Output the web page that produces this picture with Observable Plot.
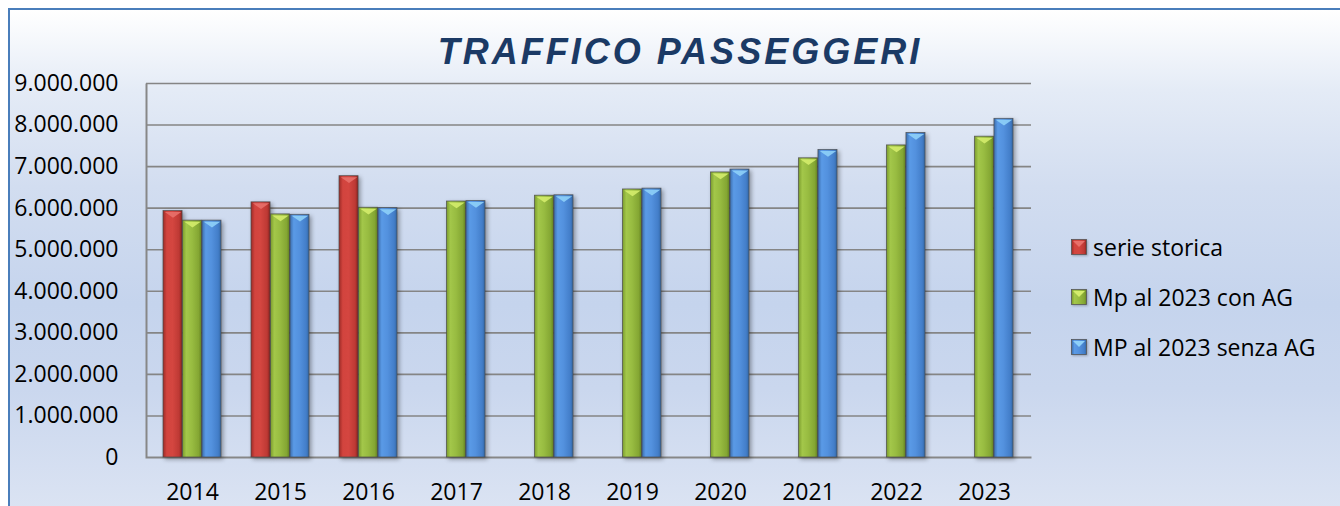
<!DOCTYPE html>
<html>
<head>
<meta charset="utf-8">
<script src="https://cdn.jsdelivr.net/npm/d3@7"></script>
<script src="https://cdn.jsdelivr.net/npm/@observablehq/plot@0.6"></script>
<style>
  html, body { margin: 0; padding: 0; width: 1340px; height: 506px; overflow: hidden; background: #ffffff; }
  #frame {
    position: absolute; left: 8px; top: 8px; width: 1340px; height: 506px;
    border-left: 2px solid #4a7ebb; border-top: 2px solid #4a7ebb;
    background: linear-gradient(to bottom, #ffffff 0%, #e4ebf6 16%, #d2ddf0 35%, #c5d4ed 58%, #cad7ee 75%, #dce4f3 100%);
  }
  #chart { position: absolute; left: 0; top: 0; }
  #title {
    position: absolute; left: 280px; width: 800px; top: 34px; text-align: center;
    font-family: "Liberation Sans", Arial, sans-serif; font-weight: bold; font-style: italic;
    font-size: 36px; line-height: 36px; letter-spacing: 3px; color: #1b3a65;
  }
  #legend { position: absolute; left: 1071px; top: 222px; font-family: "Open Sans", sans-serif; font-size: 23px; color: #000; }
  .lg-row { height: 50px; display: flex; align-items: center; }
  .lg-row svg { margin-right: 6px; filter: drop-shadow(1px 1px 1px rgba(0,0,0,0.25)); }
</style>
</head>
<body>
<svg width="0" height="0" style="position:absolute">
  <defs>
    <linearGradient id="g0" x1="0" x2="1" y1="0" y2="0">
      <stop offset="0" stop-color="#9c2b27"/>
      <stop offset="0.2" stop-color="#d2443e"/>
      <stop offset="0.5" stop-color="#d44640"/>
      <stop offset="0.85" stop-color="#bd3934"/>
      <stop offset="1" stop-color="#8a2420"/>
    </linearGradient>
    <linearGradient id="g1" x1="0" x2="1" y1="0" y2="0">
      <stop offset="0" stop-color="#7a9b2c"/>
      <stop offset="0.2" stop-color="#a3c74a"/>
      <stop offset="0.5" stop-color="#98bc41"/>
      <stop offset="0.85" stop-color="#84a633"/>
      <stop offset="1" stop-color="#688824"/>
    </linearGradient>
    <linearGradient id="g2" x1="0" x2="1" y1="0" y2="0">
      <stop offset="0" stop-color="#3b6dad"/>
      <stop offset="0.2" stop-color="#5a9ae6"/>
      <stop offset="0.5" stop-color="#5391de"/>
      <stop offset="0.85" stop-color="#437ec9"/>
      <stop offset="1" stop-color="#3367a5"/>
    </linearGradient>
  </defs>
</svg>
<div id="frame"></div>
<div id="chart"></div>
<div id="title">TRAFFICO PASSEGGERI</div>
<div id="legend"></div>
<script>
// ---- data ----
const years = [2014, 2015, 2016, 2017, 2018, 2019, 2020, 2021, 2022, 2023];
const seriesNames = ["serie storica", "Mp al 2023 con AG", "MP al 2023 senza AG"];
const serieStorica = [5930000, 6140000, 6770000, null, null, null, null, null, null, null];
const mpConAG      = [5700000, 5850000, 6010000, 6160000, 6300000, 6450000, 6860000, 7200000, 7510000, 7720000];
const mpSenzaAG    = [5700000, 5840000, 6000000, 6170000, 6310000, 6470000, 6930000, 7400000, 7810000, 8150000];
const yTicks = [0, 1000000, 2000000, 3000000, 4000000, 5000000, 6000000, 7000000, 8000000, 9000000];

// ---- styling ----
const fills = ["url(#g0)", "url(#g1)", "url(#g2)"];
const topColors = ["#e8706a", "#d4ec6c", "#8ed0f8"];
const swatchColors = ["#c0392f", "#8fb23a", "#4a89d6"];

const W = 1340, H = 506;
const mL = 146, mR = 309, mT = 83, mB = 49;
const innerW = W - mL - mR, innerH = H - mT - mB;
const padInner = 0.34;
const bandW = innerW / years.length * (1 - padInner);
const barW = bandW / 3;

const allSeries = [serieStorica, mpConAG, mpSenzaAG];
const rows = years.flatMap((yr, i) => seriesNames.map((s, j) => ({
  year: String(yr), series: s, idx: j, value: allSeries[j][i]
}))).filter(d => d.value != null);

const locale = d3.formatLocale({decimal: ",", thousands: ".", grouping: [3], currency: ["€", ""]});
const fmt = locale.format(",");

// flat downward triangle used as bevel on top of bars
const bevel = {
  draw(ctx, size) {
    const r = Math.sqrt(size / Math.PI);
    ctx.moveTo(-r, 1);
    ctx.lineTo(r, 1);
    ctx.lineTo(0, 1 + r * 0.7);
    ctx.closePath();
  }
};

const marks = [
  Plot.ruleY(yTicks.filter(v => v > 0), {stroke: "#858585", strokeWidth: 1.6}),
  Plot.frame({stroke: "#878787", strokeWidth: 2, strokeDasharray: `0 ${innerW + innerH} ${innerW + innerH}`})
];
seriesNames.forEach((s, j) => {
  const data = rows.filter(d => d.idx === j);
  marks.push(Plot.barY(data, {
    x: "year", y: "value", fill: fills[j], stroke: "#4a4a4a", strokeWidth: 0.8, strokeOpacity: 0.85,
    insetLeft: j * barW, insetRight: (2 - j) * barW
  }));
  marks.push(Plot.dot(data, {
    x: "year", y: "value", symbol: bevel, r: barW / 2 - 1.5, fill: topColors[j], fillOpacity: 0.9,
    stroke: "none", dx: (j - 1) * barW
  }));
});

const chart = Plot.plot({
  width: W, height: H,
  marginLeft: mL, marginRight: mR, marginTop: mT, marginBottom: mB,
  style: {background: "transparent", fontFamily: "'Open Sans', sans-serif", fontSize: "23px", color: "#000", overflow: "visible"},
  x: {domain: years.map(String), paddingInner: padInner, paddingOuter: padInner / 2, label: null, tickSize: 0, tickPadding: 26},
  y: {domain: [0, 9000000], ticks: yTicks, tickFormat: fmt, tickSize: 0, tickPadding: 28, label: null},
  marks
});
document.getElementById("chart").appendChild(chart);

chart.querySelectorAll('g[aria-label="bar"]').forEach(g => {
  g.style.filter = "drop-shadow(2px 2px 2px rgba(0,0,0,0.35))";
});

// ---- legend ----
const legend = document.getElementById("legend");
seriesNames.forEach((s, j) => {
  const row = document.createElement("div");
  row.className = "lg-row";
  row.innerHTML = `<svg width="16" height="16" viewBox="0 0 16 16"><rect x="0.5" y="0.5" width="15" height="15" fill="${fills[j]}" stroke="#555" stroke-width="0.8"/><path d="M2 2 L14 2 L8 8 Z" fill="${topColors[j]}"/></svg><span>${s}</span>`;
  legend.appendChild(row);
});
</script>
</body>
</html>
